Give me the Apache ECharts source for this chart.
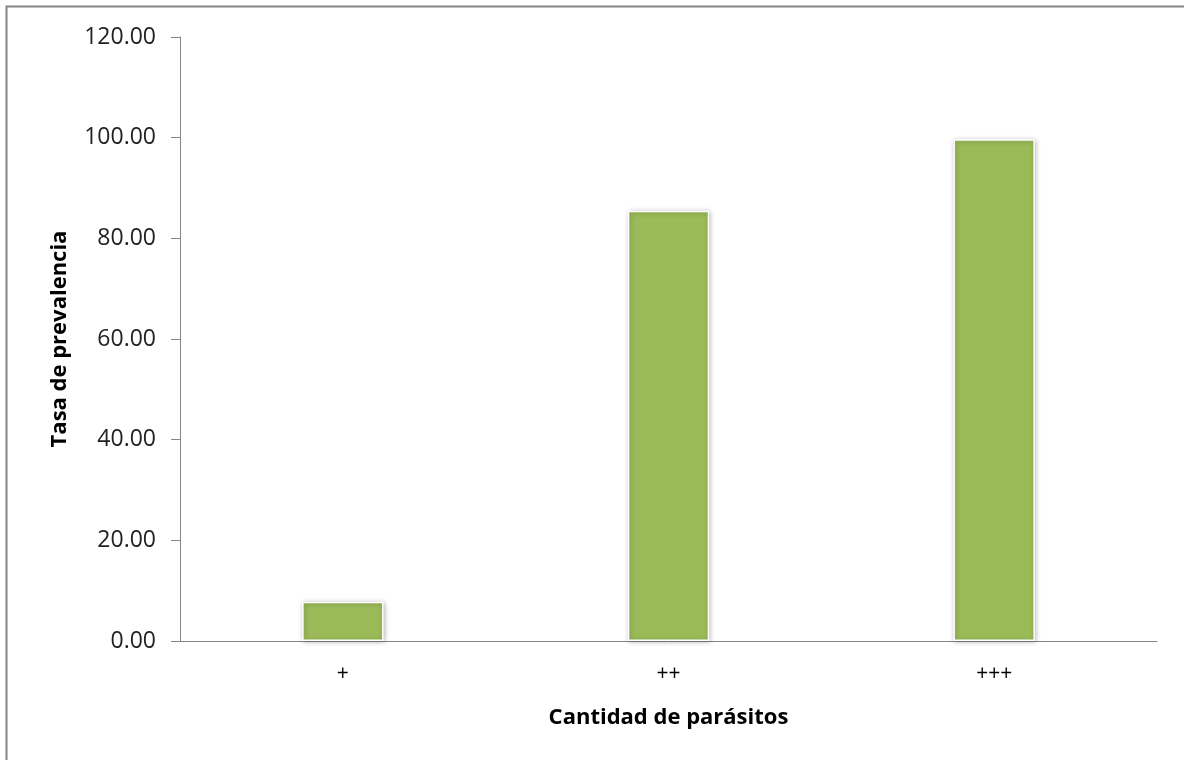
<!DOCTYPE html>
<html>
<head>
<meta charset="utf-8">
<script src="https://cdn.jsdelivr.net/npm/echarts@6/dist/echarts.min.js"></script>
<style>
html,body{margin:0;padding:0;background:#fff;}
#c{width:1184px;height:760px;}
</style>
</head>
<body>
<div id="c"></div>
<script>
const categories = ['+', '++', '+++'];
const values = [7.8, 85.5, 99.7];
const yTicks = { min: 0, max: 120, interval: 20 };
const xTitle = 'Cantidad de parásitos';
const yTitle = 'Tasa de prevalencia';

const chart = echarts.init(document.getElementById('c'), null, { renderer: 'canvas' });
const font = "'Open Sans', 'Noto Sans', sans-serif";
chart.setOption({
  animation: false,
  backgroundColor: '#fff',
  graphic: [{
    type: 'rect',
    shape: { x: 6.5, y: 6.5, width: 1200, height: 800 },
    style: { fill: 'none', stroke: '#868686', lineWidth: 2 },
    silent: true
  }],
  grid: { left: 180, right: 27, top: 37, bottom: 119, containLabel: false },
  xAxis: {
    type: 'category',
    data: categories,
    name: xTitle,
    nameLocation: 'middle',
    nameGap: 66,
    nameTextStyle: { fontFamily: font, fontSize: 22, fontWeight: 'bold', color: '#000' },
    axisLine: { lineStyle: { color: '#868686', width: 1 } },
    axisTick: { show: false },
    axisLabel: { fontFamily: font, fontSize: 21, color: '#000', margin: 23 }
  },
  yAxis: {
    type: 'value',
    min: yTicks.min, max: yTicks.max, interval: yTicks.interval,
    name: yTitle,
    nameLocation: 'middle',
    nameGap: 109,
    nameTextStyle: { fontFamily: font, fontSize: 22, fontWeight: 'bold', color: '#000' },
    axisLine: { show: true, lineStyle: { color: '#868686', width: 1 } },
    axisTick: { show: true, length: 9, lineStyle: { color: '#868686' } },
    splitLine: { show: false },
    axisLabel: {
      fontFamily: font, fontSize: 23, color: '#222', margin: 24,
      formatter: v => v.toFixed(2)
    }
  },
  series: [{
    type: 'bar',
    data: values,
    barWidth: '25%',
    itemStyle: {
      color: '#9BBB59',
      borderColor: '#ffffff',
      borderWidth: 1.5,
      shadowBlur: 5,
      shadowColor: 'rgba(0,0,0,0.3)',
      shadowOffsetX: 1,
      shadowOffsetY: 1
    }
  }]
});
</script>
</body>
</html>
